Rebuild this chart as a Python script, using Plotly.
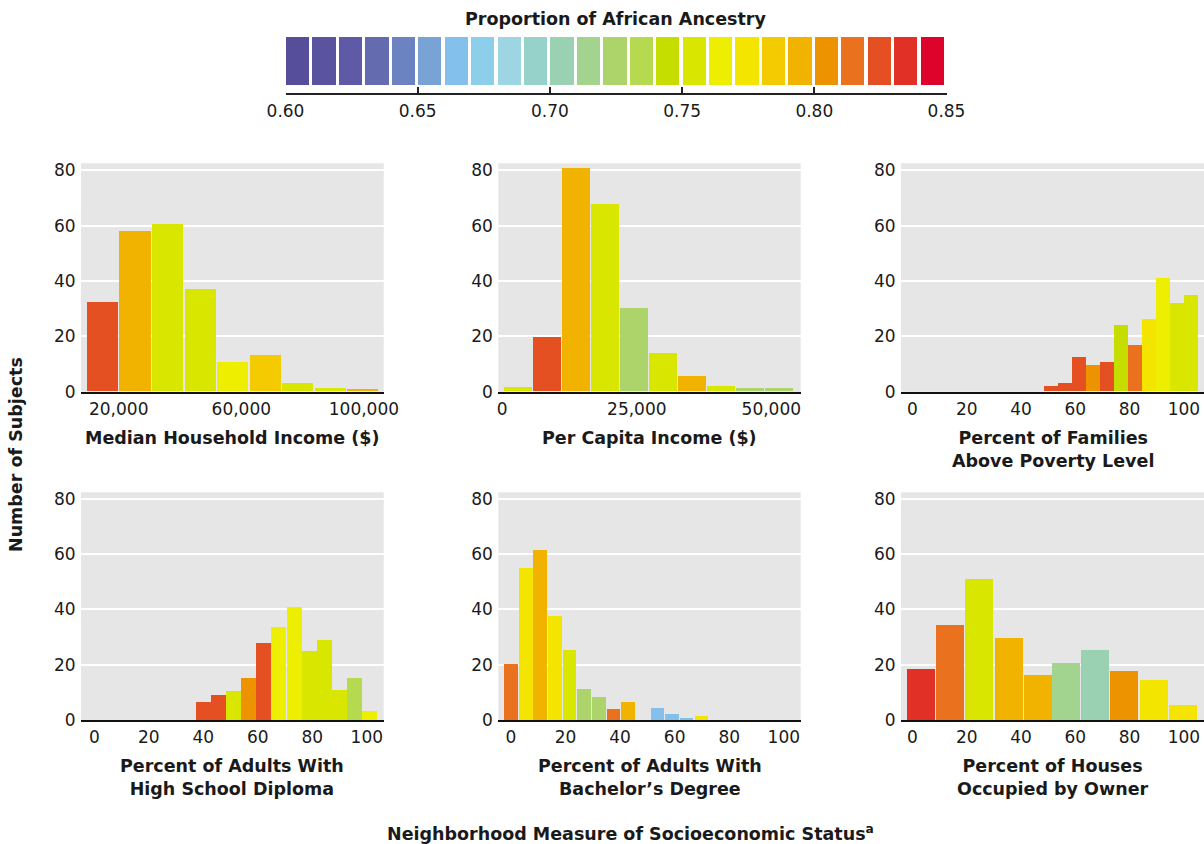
import math
import plotly.graph_objects as go

W, H = 1204, 844

# ---------------- data ----------------
# colour scale: proportion of African ancestry, 0.60-0.85 in steps of 0.01
scale_start = 0.60
scale_step = 0.01
scale_colors = [
    "#564E9B", "#5A53A0", "#5F5AA5", "#656BAF", "#6B84C1",
    "#79A3D5", "#83C1EC", "#8DCFEB", "#9DD5E3", "#96D2C9",
    "#9AD1B3", "#A2D38F", "#ADD46A", "#B5D94F", "#C5DE00",
    "#D8E600", "#EEEE00", "#F3E500", "#F4CB00", "#F1B200",
    "#EE9300", "#EA721E", "#E45021", "#E13127", "#DD032A",
]
scale_ticks = [0.60, 0.65, 0.70, 0.75, 0.80, 0.85]

# Median household income ($)
mhi_bins = [14800, 25300, 35900, 46600, 57200, 67800, 78400, 89000, 99500]
mhi_counts = [32.4, 58.1, 60.6, 37.1, 10.7, 13.3, 3.1, 1.3, 1.0]
mhi_ancestry = [0.825, 0.795, 0.755, 0.755, 0.765, 0.785, 0.755, 0.755, 0.795]

# Per capita income ($)
pci_bins = [3000, 8400, 13800, 19200, 24600, 30000, 35300, 40700, 46100, 51500]
pci_counts = [1.7, 19.8, 80.8, 67.8, 30.2, 14.0, 5.7, 2.0, 1.3, 1.3]
pci_ancestry = [0.755, 0.825, 0.795, 0.755, 0.725, 0.755, 0.795, 0.755, 0.725, 0.725]

# Percent of families above poverty level
pov_bins = [51.1, 56.2, 61.4, 66.5, 71.7, 76.9, 82.0, 87.2, 92.3, 97.5, 102.6]
pov_counts = [2.0, 3.1, 12.5, 9.6, 10.7, 24.1, 16.9, 26.3, 41.1, 32.0, 34.9]
pov_ancestry = [0.825, 0.825, 0.825, 0.805, 0.825, 0.745, 0.815, 0.775, 0.765, 0.755, 0.755]

# Percent of adults with high school diploma
hs_bins = [40.1, 45.6, 51.1, 56.7, 62.2, 67.7, 73.3, 78.8, 84.3, 89.9, 95.4, 100.9]
hs_counts = [6.5, 9.0, 10.5, 15.2, 27.9, 33.7, 40.9, 25.0, 29.0, 10.9, 15.2, 3.3]
hs_ancestry = [0.825, 0.825, 0.755, 0.805, 0.825, 0.765, 0.765, 0.755, 0.755, 0.755, 0.735, 0.765]

# Percent of adults with bachelor's degree
ba_bins = [0.1, 5.5, 10.8, 16.2, 21.6, 26.9, 32.3, 37.7, 43.1, 48.4, 53.8, 59.2, 64.5, 69.9]
ba_counts = [20.0, 55.0, 61.5, 37.6, 25.3, 11.2, 8.3, 4.0, 6.5, 0, 4.3, 2.2, 0.7, 1.4]
ba_ancestry = [0.815, 0.775, 0.795, 0.775, 0.755, 0.725, 0.725, 0.815, 0.795, None,
               0.665, 0.665, 0.665, 0.775]

# Percent of houses occupied by owner
own_bins = [3.3, 14.0, 24.7, 35.4, 46.1, 56.7, 67.4, 78.1, 88.8, 99.5]
own_counts = [18.2, 34.1, 50.8, 29.4, 16.0, 20.4, 25.1, 17.5, 14.2, 5.2]
own_ancestry = [0.835, 0.815, 0.755, 0.795, 0.795, 0.715, 0.705, 0.805, 0.775, 0.775]

bin_widths = [10550, 5390, 5.157, 5.53, 5.37, 10.68]

panel_titles = [
    "Median Household Income ($)",
    "Per Capita Income ($)",
    "Percent of Families<br>Above Poverty Level",
    "Percent of Adults With<br>High School Diploma",
    "Percent of Adults With<br>Bachelor\u2019s Degree",
    "Percent of Houses<br>Occupied by Owner",
]
income1_ticks = [20000, 60000, 100000]
income1_labels = ["20,000", "60,000", "100,000"]
income2_ticks = [0, 25000, 50000]
income2_labels = ["0", "25,000", "50,000"]
pct_ticks = [0, 20, 40, 60, 80, 100]
y_ticks = [0, 20, 40, 60, 80]

y_title = "Number of Subjects"
x_title = "Neighborhood Measure of Socioeconomic Status<sup>a</sup>"
scale_title = "Proportion of African Ancestry"

# ---------------- helpers ----------------
FONT = "DejaVu Sans"
TXT = "#1a1a1a"
PAGE_OFF = 0  # body margin removed by post_script below


def color_for(v):
    if v is None:
        return "rgba(0,0,0,0)"
    i = int(math.floor((v - scale_start) / scale_step + 1e-9))
    i = max(0, min(len(scale_colors) - 1, i))
    return scale_colors[i]


def fx(px):
    return min(1.0, (px - PAGE_OFF) / W)


def fy(py):
    return 1 - (py - PAGE_OFF) / H


def ax_id(i):
    return "" if i == 1 else str(i)


# layout geometry (page pixels)
cols = [(81, 383.7), (498.3, 800.7), (901, 1204)]
rows = [(163.3, 391.7), (492.3, 720)]
x_ranges = [[7700, 106460], [-740, 55460], [-4.2, 107.4],
            [-4.9, 106.2], [-4.66, 106.2], [-4.2, 107.4]]
y_ranges = [[0, 82.5], [0, 82.4]]
gap_px = [1, 1, 0, 0, 1, 1]

panels = [
    (mhi_bins, mhi_counts, mhi_ancestry, income1_ticks, income1_labels),
    (pci_bins, pci_counts, pci_ancestry, income2_ticks, income2_labels),
    (pov_bins, pov_counts, pov_ancestry, pct_ticks, [str(t) for t in pct_ticks]),
    (hs_bins, hs_counts, hs_ancestry, pct_ticks, [str(t) for t in pct_ticks]),
    (ba_bins, ba_counts, ba_ancestry, pct_ticks, [str(t) for t in pct_ticks]),
    (own_bins, own_counts, own_ancestry, pct_ticks, [str(t) for t in pct_ticks]),
]

fig = go.Figure()
layout = dict(
    template="none",
    width=W, height=H,
    margin=dict(l=0, r=0, t=0, b=0, pad=0, autoexpand=False),
    paper_bgcolor="white", plot_bgcolor="white",
    showlegend=False, bargap=0,
    font=dict(family=FONT, color=TXT, size=17),
)
shapes = []
annotations = []

for k, (bins, counts, anc, tv, tt) in enumerate(panels):
    idx = k + 1
    s = ax_id(idx)
    r, c = divmod(k, 3)
    xd = cols[c]
    yd = rows[r]
    xr = x_ranges[k]
    units_per_px = (xr[1] - xr[0]) / (xd[1] - xd[0])
    bw = bin_widths[k] - gap_px[k] * units_per_px
    fig.add_trace(go.Bar(
        x=bins, y=counts, width=bw,
        marker=dict(color=[color_for(v) for v in anc], line=dict(width=0)),
        xaxis=f"x{s}", yaxis=f"y{s}", hoverinfo="x+y",
    ))
    layout[f"xaxis{s}"] = dict(
        domain=[fx(xd[0]), fx(xd[1])], range=xr, anchor=f"y{s}", automargin=False,
        tickvals=tv, ticktext=tt, showgrid=False, zeroline=False,
        showline=True, linecolor="#111111", linewidth=2,
        ticks="outside", ticklen=1, tickcolor="rgba(0,0,0,0)",
        tickfont=dict(family=FONT, size=17, color=TXT), fixedrange=True,
    )
    layout[f"yaxis{s}"] = dict(
        domain=[fy(yd[1]), fy(yd[0])], range=y_ranges[r], anchor=f"x{s}", automargin=False,
        tickvals=y_ticks, showgrid=True, gridcolor="white", gridwidth=1.5,
        zeroline=False, showline=False,
        ticks="outside", ticklen=1, tickcolor="rgba(0,0,0,0)",
        tickfont=dict(family=FONT, size=17, color=TXT), fixedrange=True,
    )
    shapes.append(dict(
        type="rect", xref=f"x{s} domain", yref=f"y{s} domain",
        x0=0, x1=1, y0=0, y1=1, fillcolor="#E6E6E6", line=dict(width=0),
        layer="below",
    ))
    xc = (xd[0] + xd[1]) / 2
    annotations.append(dict(
        text=f"<b>{panel_titles[k]}</b>", x=fx(xc), y=fy(yd[1] + 34),
        xref="paper", yref="paper", xanchor="center", yanchor="top",
        showarrow=False, align="center",
        font=dict(family=FONT, size=17.5, color=TXT),
    ))

# ---------------- colour scale bar ----------------
n = len(scale_colors)
lefts = [scale_start + i * scale_step for i in range(n)]
cb_x = (285.5, 946.5)
sw_px = (cb_x[1] - cb_x[0]) / n
sw_w = scale_step * (1 - 3.2 / sw_px)
fig.add_trace(go.Bar(
    x=lefts, y=[1] * n, width=sw_w, offset=0,
    marker=dict(color=scale_colors, line=dict(width=0)),
    xaxis="x7", yaxis="y7", hoverinfo="skip",
))
line_y, top_y, bot_y = 93, 37, 85
layout["xaxis7"] = dict(
    domain=[fx(cb_x[0]), fx(cb_x[1])], range=[scale_start, scale_start + n * scale_step],
    anchor="y7", automargin=False,
    tickvals=scale_ticks, tickformat=".2f", showgrid=False, zeroline=False,
    showline=True, linecolor="#222222", linewidth=1.5,
    ticks="inside", ticklen=6, tickwidth=1.5, tickcolor="#222222",
    ticklabelstandoff=2,
    tickfont=dict(family=FONT, size=17, color=TXT), fixedrange=True,
)
layout["yaxis7"] = dict(
    domain=[fy(line_y), fy(top_y)], range=[-(line_y - bot_y) / (bot_y - top_y), 1],
    anchor="x7", visible=False, fixedrange=True, automargin=False,
)
annotations.append(dict(
    text=f"<b>{scale_title}</b>", x=fx((cb_x[0] + cb_x[1]) / 2), y=fy(19),
    xref="paper", yref="paper", xanchor="center", yanchor="middle",
    showarrow=False, font=dict(family=FONT, size=17.5, color=TXT),
))

# ---------------- shared titles ----------------
annotations.append(dict(
    text=f"<b>{y_title}</b>", x=fx(16), y=fy(455), textangle=-90,
    xref="paper", yref="paper", xanchor="center", yanchor="middle",
    showarrow=False, font=dict(family=FONT, size=17.5, color=TXT),
))
annotations.append(dict(
    text=f"<b>{x_title}</b>", x=fx(630), y=fy(833),
    xref="paper", yref="paper", xanchor="center", yanchor="middle",
    showarrow=False, font=dict(family=FONT, size=17.5, color=TXT),
))

layout["shapes"] = shapes
layout["annotations"] = annotations
fig.update_layout(**layout)
fig.write_html(
    "out.html",
    config={"displayModeBar": False},
    post_script="document.body.style.margin='0';document.body.style.overflow='hidden';",
)
